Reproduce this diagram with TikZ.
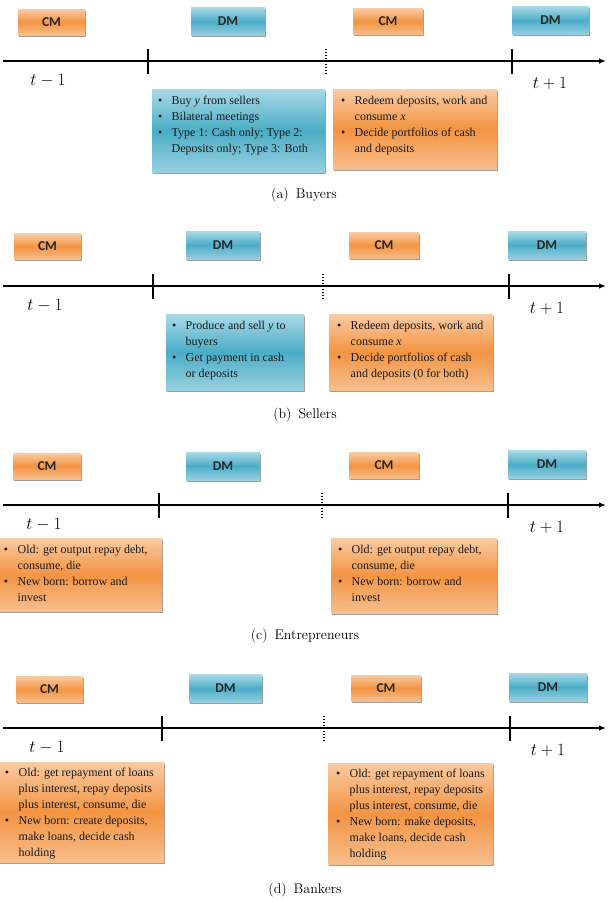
\documentclass[tikz,border=0pt]{standalone}
\usepackage{fontspec}
\usetikzlibrary{arrows.meta,positioning,shadows}
\newfontfamily\boxfont{Liberation Serif}
\newfontfamily\labfont{Carlito}
\definecolor{cmtop}{HTML}{FBCBA2}
\definecolor{cmmid}{HTML}{F39443}
\definecolor{cmbot}{HTML}{F8BE8C}
\definecolor{dmtop}{HTML}{A9DAE7}
\definecolor{dmmid}{HTML}{4AADC7}
\definecolor{dmbot}{HTML}{98D0DF}
\newcommand{\blist}[1]{\begin{tabular}{@{}l@{\hspace{9.5pt}}l@{}}#1\end{tabular}}

\tikzset{
  period/.style={minimum height=26pt, inner sep=0pt, text=black!85,
    font=\labfont\bfseries\fontsize{13.5}{15}\selectfont,
    drop shadow={shadow xshift=0.8pt, shadow yshift=-1.6pt, fill=black!70, opacity=0.55}},
  cmbox/.style={period, top color=cmtop, bottom color=cmbot, middle color=cmmid},
  dmbox/.style={period, minimum height=28pt, top color=dmtop, bottom color=dmbot, middle color=dmmid},
  info/.style={inner sep=0pt,
    drop shadow={shadow xshift=0.8pt, shadow yshift=-1.8pt, fill=black!70, opacity=0.55}},
  orinfo/.style={info, top color=cmtop, bottom color=cmbot, middle color=cmmid},
  blinfo/.style={info, top color=dmtop, bottom color=dmbot, middle color=dmmid},
  itemtext/.style={anchor=north west, inner sep=0pt, text=black!90,
    font=\boxfont\fontsize{12}{16}\selectfont},
  timeline/.style={line width=1.3pt, -{Latex[length=7pt,width=5.5pt]}},
  tick/.style={line width=1.4pt},
  midtick/.style={line width=1.6pt, dash pattern=on 1.5pt off 1.5pt},
  tlabel/.style={font=\fontsize{16}{19}\selectfont},
  subcap/.style={font=\fontsize{14}{17}\selectfont}
}

\begin{document}
\begin{tikzpicture}[x=1pt, y=-1pt]
\useasboundingbox (0,0) rectangle (611,902);

% Time lines with ticks and period labels
\foreach \p/\ay/\ta/\tb/\tc/\lm/\lp in {a/61/148/326/512/48/550, b/286/153/323/509/45/547,
    c/505/159/322/508/44/547, d/728/162/324/510/47/548} {
  \coordinate (\p-s) at (3,\ay);
  \coordinate (\p-e) at (606,\ay);
  \draw[timeline] (\p-s) -- (\p-e);
  \coordinate (\p-t1a) at (\ta,\ay-12.5);
  \coordinate (\p-t1b) at (\ta,\ay+13);
  \coordinate (\p-t2a) at (\tb,\ay-12.5);
  \coordinate (\p-t2b) at (\tb,\ay+14);
  \coordinate (\p-t3a) at (\tc,\ay-12.5);
  \coordinate (\p-t3b) at (\tc,\ay+13);
  \draw[tick] (\p-t1a) -- (\p-t1b);
  \draw[midtick] (\p-t2a) -- (\p-t2b);
  \draw[tick] (\p-t3a) -- (\p-t3b);
  \node[tlabel] (\p-tm) at (\lm,\ay+20) {$t-1$};
  \node[tlabel] (\p-tp) at (\lp,\ay+22) {$t+1$};
}

% CM and DM boxes
\foreach \n/\x/\y/\w in {a-cm1/51.5/22/67, a-cm2/388/21.5/70, b-cm1/47.5/246.5/67, b-cm2/384/245.5/70,
    c-cm1/47/466/68, c-cm2/384/465.5/70, d-cm1/49.5/689.5/67, d-cm2/386/688/70}
  \node[cmbox, minimum width=\w pt] (\n) at (\x,\y) {CM};
\foreach \n/\x/\y/\w in {a-dm1/228/21.5/74, a-dm2/550.5/20.5/77, b-dm1/223/245/74, b-dm2/547/245/78,
    c-dm1/223/466/74, c-dm2/547/464.5/78, d-dm1/225.5/688.5/73, d-dm2/548/687/78}
  \node[dmbox, minimum width=\w pt] (\n) at (\x,\y) {DM};

% (a) Buyers
\node[blinfo, minimum width=173pt, minimum height=83pt] (a-buy) at (238.5,130.5) {};
\node[itemtext] (a-buy-t) at ([xshift=6pt,yshift=-4pt]a-buy.north west) {\blist{
  \textbullet & Buy \textit{y} from sellers\\
  \textbullet & Bilateral meetings\\
  \textbullet & Type 1: Cash only; Type 2:\\
  & Deposits only; Type 3: Both}};
\node[orinfo, minimum width=164pt, minimum height=80pt] (a-red) at (415,129) {};
\node[itemtext] (a-red-t) at ([xshift=8pt,yshift=-4pt]a-red.north west) {\blist{
  \textbullet & Redeem deposits, work and\\
  & consume \textit{x}\\
  \textbullet & Decide portfolios of cash\\
  & and deposits}};
\node[subcap] (a-cap) at (304,195) {(a)\hspace{0.5em}Buyers};

% (b) Sellers
\node[blinfo, minimum width=138pt, minimum height=76pt] (b-sell) at (235,352) {};
\node[itemtext] (b-sell-t) at ([xshift=6pt,yshift=-4pt]b-sell.north west) {\blist{
  \textbullet & Produce and sell \textit{y} to\\
  & buyers\\
  \textbullet & Get payment in cash\\
  & or deposits}};
\node[orinfo, minimum width=164pt, minimum height=76pt] (b-red) at (411,352) {};
\node[itemtext] (b-red-t) at ([xshift=8pt,yshift=-4pt]b-red.north west) {\blist{
  \textbullet & Redeem deposits, work and\\
  & consume \textit{x}\\
  \textbullet & Decide portfolios of cash\\
  & and deposits (0 for both)}};
\node[subcap] (b-cap) at (305,415) {(b)\hspace{0.5em}Sellers};

% (c) Entrepreneurs
\node[orinfo, minimum width=164pt, minimum height=73pt] (c-old1) at (80,574.5) {};
\node[itemtext] (c-old1-t) at ([xshift=6pt,yshift=-4pt]c-old1.north west) {\blist{
  \textbullet & Old: get output repay debt,\\
  & consume, die\\
  \textbullet & New born: borrow and\\
  & invest}};
\node[orinfo, minimum width=166pt, minimum height=75pt] (c-old2) at (414,575.5) {};
\node[itemtext] (c-old2-t) at ([xshift=7pt,yshift=-4pt]c-old2.north west) {\blist{
  \textbullet & Old: get output repay debt,\\
  & consume, die\\
  \textbullet & New born: borrow and\\
  & invest}};
\node[subcap] (c-cap) at (305,636) {(c)\hspace{0.5em}Entrepreneurs};

% (d) Bankers
\node[orinfo, minimum width=166pt, minimum height=100pt] (d-old1) at (81,812) {};
\node[itemtext] (d-old1-t) at ([xshift=7pt,yshift=-3pt]d-old1.north west) {\blist{
  \textbullet & Old: get repayment of loans\\
  & plus interest, repay deposits\\
  & plus interest, consume, die\\
  \textbullet & New born: create deposits,\\
  & make loans, decide cash\\
  & holding}};
\node[orinfo, minimum width=165pt, minimum height=101pt] (d-old2) at (410.5,813.5) {};
\node[itemtext] (d-old2-t) at ([xshift=8pt,yshift=-3pt]d-old2.north west) {\blist{
  \textbullet & Old: get repayment of loans\\
  & plus interest, repay deposits\\
  & plus interest, consume, die\\
  \textbullet & New born: make deposits,\\
  & make loans, decide cash\\
  & holding}};
\node[subcap] (d-cap) at (305,890) {(d)\hspace{0.5em}Bankers};

\end{tikzpicture}
\end{document}
